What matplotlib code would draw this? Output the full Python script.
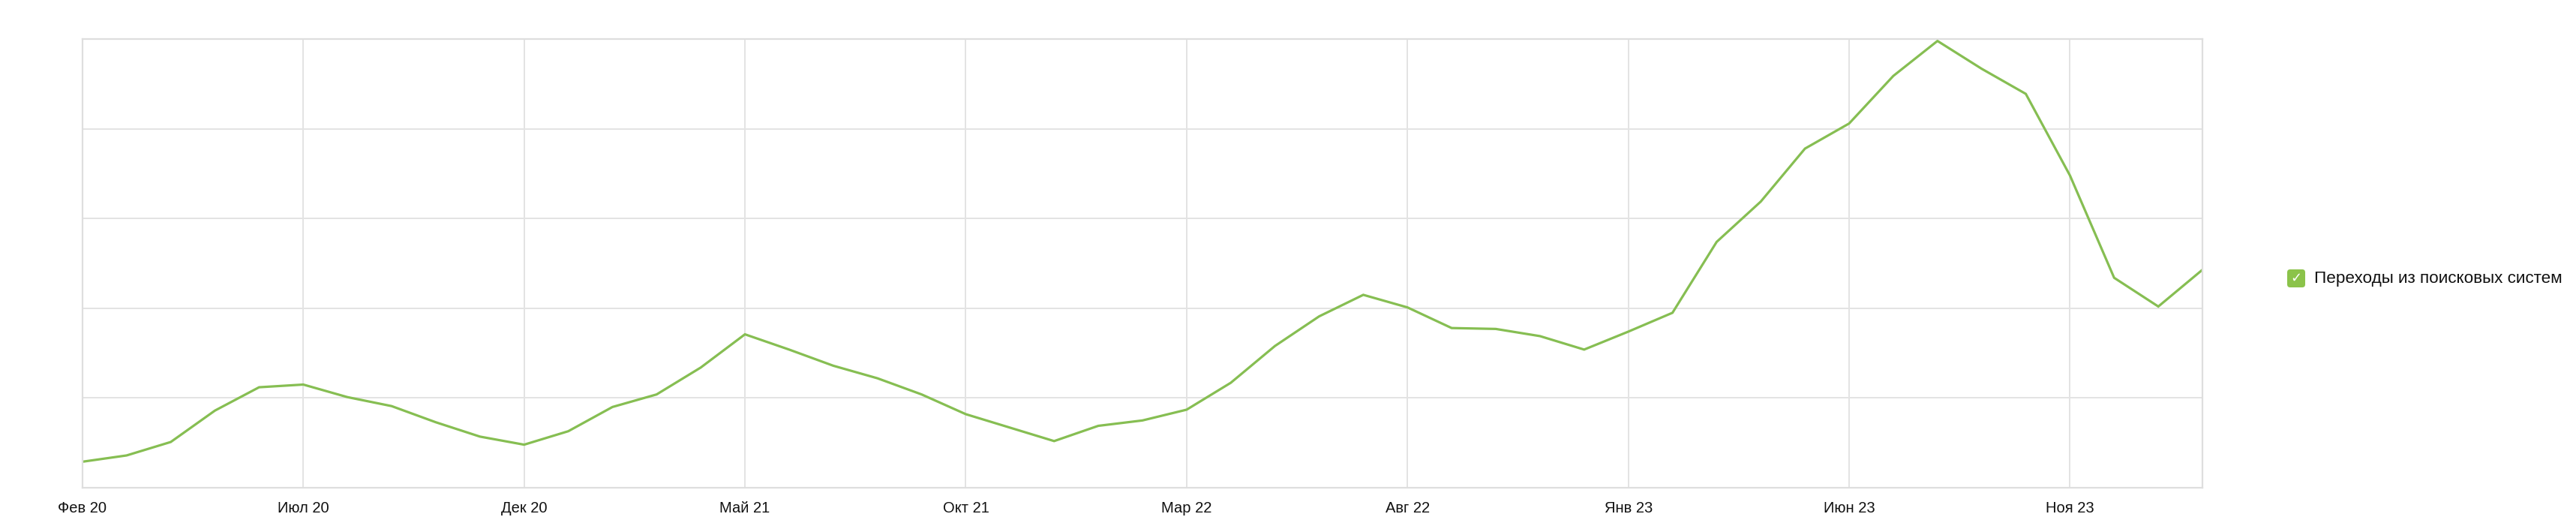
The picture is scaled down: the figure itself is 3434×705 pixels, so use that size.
import matplotlib
matplotlib.use('Agg')
import matplotlib.pyplot as plt
from matplotlib.patches import FancyBboxPatch
from matplotlib.transforms import IdentityTransform

plt.rcParams['font.family'] = ['Liberation Sans', 'DejaVu Sans']

# месяцы с Фев 2020 по Фев 2024
months = ['Фев 20', 'Мар 20', 'Апр 20', 'Май 20', 'Июн 20', 'Июл 20', 'Авг 20', 'Сен 20',
          'Окт 20', 'Ноя 20', 'Дек 20', 'Янв 21', 'Фев 21', 'Мар 21', 'Апр 21', 'Май 21',
          'Июн 21', 'Июл 21', 'Авг 21', 'Сен 21', 'Окт 21', 'Ноя 21', 'Дек 21', 'Янв 22',
          'Фев 22', 'Мар 22', 'Апр 22', 'Май 22', 'Июн 22', 'Июл 22', 'Авг 22', 'Сен 22',
          'Окт 22', 'Ноя 22', 'Дек 22', 'Янв 23', 'Фев 23', 'Мар 23', 'Апр 23', 'Май 23',
          'Июн 23', 'Июл 23', 'Авг 23', 'Сен 23', 'Окт 23', 'Ноя 23', 'Дек 23', 'Янв 24',
          'Фев 24']

# переходы из поисковых систем (условные единицы)
search_visits = [0.29, 0.36, 0.51, 0.86, 1.12, 1.15, 1.01, 0.91, 0.73, 0.57,
                 0.48, 0.63, 0.90, 1.04, 1.34, 1.71, 1.54, 1.36, 1.22, 1.04,
                 0.82, 0.67, 0.52, 0.69, 0.75, 0.87, 1.17, 1.58, 1.91, 2.15,
                 2.01, 1.78, 1.77, 1.69, 1.54, 1.74, 1.95, 2.74, 3.19, 3.78,
                 4.06, 4.59, 4.98, 4.67, 4.39, 3.48, 2.34, 2.02, 2.43]

tick_labels = ['Фев 20', 'Июл 20', 'Дек 20', 'Май 21', 'Окт 21',
               'Мар 22', 'Авг 22', 'Янв 23', 'Июн 23', 'Ноя 23']

x = list(range(len(months)))
tick_pos = [months.index(t) for t in tick_labels]

fig = plt.figure(figsize=(34.34, 7.05), dpi=100)
ax = fig.add_axes([0.0320, 0.078, 0.8230, 0.848])

ax.plot(x, search_visits, color='#86BE52', linewidth=2.3, solid_joinstyle='miter')

ax.set_xlim(0, len(months) - 1)
ax.set_ylim(0, 5)
ax.set_xticks(tick_pos)
ax.set_xticklabels(tick_labels, fontsize=14.5, color='#111111')
ax.set_yticks([0, 1, 2, 3, 4, 5])
ax.set_yticklabels([])
ax.tick_params(length=0, pad=13)
ax.grid(True, color='#e3e3e3', linewidth=1.4)
ax.set_axisbelow(True)
for s in ax.spines.values():
    s.set_color('#dedede')
    s.set_linewidth(1.6)

# легенда: зелёный флажок и подпись
box = FancyBboxPatch((3050, 323), 22, 22, boxstyle='round,pad=1,rounding_size=4',
                     transform=IdentityTransform(), facecolor='#8BC34A',
                     edgecolor='none', figure=fig)
fig.patches.append(box)
fig.text(3061, 334, '✓', transform=IdentityTransform(), color='white',
         fontsize=13, ha='center', va='center', family=['DejaVu Sans'])
fig.text(3085, 333, 'Переходы из поисковых систем', transform=IdentityTransform(),
         fontsize=16.2, color='#111111', ha='left', va='center')

fig.savefig('out.png', dpi=100)
